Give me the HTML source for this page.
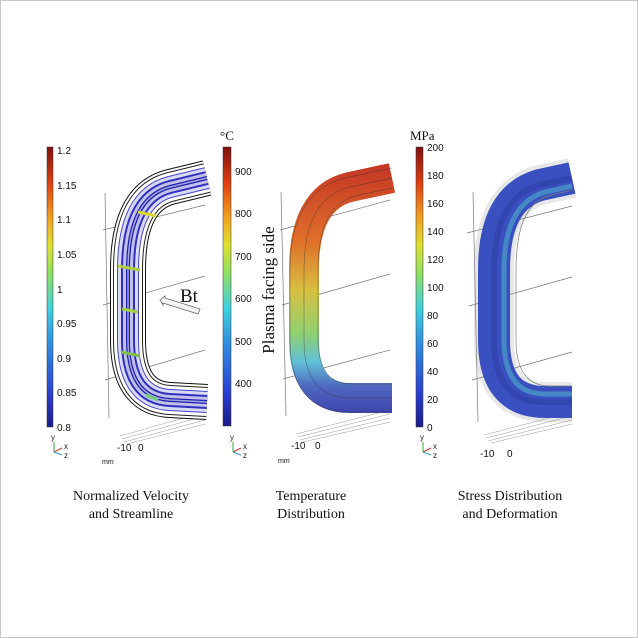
<!DOCTYPE html>
<html><head><style>
html,body{margin:0;padding:0;background:#fff}
svg{display:block}
.t{font-family:"Liberation Sans",sans-serif;font-size:10px;fill:#111}
.s{font-family:"Liberation Serif",serif;fill:#111}
</style></head><body>
<svg width="638" height="638" viewBox="0 0 638 638" xmlns="http://www.w3.org/2000/svg">
<defs>
<linearGradient id="jet" x1="0" y1="1" x2="0" y2="0">
<stop offset="0" stop-color="#1a1a8a"/><stop offset="0.12" stop-color="#2a3fd0"/><stop offset="0.3" stop-color="#2f8fe0"/>
<stop offset="0.42" stop-color="#3fd0e0"/><stop offset="0.55" stop-color="#90e060"/><stop offset="0.65" stop-color="#e0e030"/>
<stop offset="0.75" stop-color="#f0a020"/><stop offset="0.87" stop-color="#e04010"/><stop offset="1" stop-color="#801010"/>
</linearGradient>
<linearGradient id="temp" gradientUnits="userSpaceOnUse" x1="0" y1="170" x2="0" y2="410">
<stop offset="0" stop-color="#c63a25"/><stop offset="0.3" stop-color="#e0702a"/><stop offset="0.5" stop-color="#d8c040"/>
<stop offset="0.68" stop-color="#90d070"/><stop offset="0.8" stop-color="#60c0d8"/><stop offset="0.9" stop-color="#5068c0"/><stop offset="1" stop-color="#4048b0"/>
</linearGradient>
<path id="p1" d="M207 178 L170 187 Q128 198 128 270 L128 340 Q128 398 170 400 L207 402"/>
</defs>
<rect x="0.5" y="0.5" width="637" height="637" fill="#fff" stroke="#c8c8c8"/>

<rect x="47" y="147" width="6" height="280" fill="url(#jet)" stroke="#333" stroke-width="0.5"/>
<rect x="223" y="147" width="8" height="279" fill="url(#jet)" stroke="#333" stroke-width="0.5"/>
<rect x="416" y="147" width="7" height="280" fill="url(#jet)" stroke="#333" stroke-width="0.5"/>
<g class="t">
<text x="57" y="154">1.2</text><text x="57" y="189">1.15</text><text x="57" y="223">1.1</text><text x="57" y="258">1.05</text>
<text x="57" y="293">1</text><text x="57" y="327">0.95</text><text x="57" y="362">0.9</text><text x="57" y="396">0.85</text><text x="57" y="431">0.8</text>
<text x="235" y="175">900</text><text x="235" y="217">800</text><text x="235" y="260">700</text><text x="235" y="302">600</text><text x="235" y="345">500</text><text x="235" y="387">400</text>
<text x="427" y="151">200</text><text x="427" y="179">180</text><text x="427" y="207">160</text><text x="427" y="235">140</text><text x="427" y="263">120</text>
<text x="427" y="291">100</text><text x="427" y="319">80</text><text x="427" y="347">60</text><text x="427" y="375">40</text><text x="427" y="403">20</text><text x="427" y="431">0</text>
</g>
<text class="s" x="220" y="140" font-size="13">°C</text>
<text class="s" x="410" y="140" font-size="13">MPa</text>

<g stroke="#777" stroke-width="0.7" fill="none">
<line x1="105" y1="193" x2="109" y2="418"/><line x1="103" y1="230" x2="205" y2="205"/><line x1="103" y1="305" x2="205" y2="276"/><line x1="105" y1="380" x2="205" y2="350"/>
<line x1="281" y1="192" x2="286" y2="416"/><line x1="280" y1="230" x2="390" y2="200"/><line x1="282" y1="305" x2="390" y2="274"/><line x1="283" y1="379" x2="390" y2="350"/>
<line x1="473" y1="192" x2="478" y2="422"/><line x1="467" y1="233" x2="572" y2="206"/><line x1="469" y1="306" x2="572" y2="277"/><line x1="472" y1="380" x2="572" y2="352"/>
<g stroke="#999" stroke-width="0.5">
<path d="M120 436 L205 412 M122 439 L205 416 M124 442 L205 420 M127 444 L205 424"/>
<path d="M296 434 L390 410 M298 437 L390 414 M300 440 L390 418 M303 442 L390 422"/>
<path d="M484 435 L572 412 M486 438 L572 416 M488 441 L572 420 M491 443 L572 424"/>
</g>
</g>

<g fill="none">
<use href="#p1" stroke="#111" stroke-width="36"/>
<use href="#p1" stroke="#fff" stroke-width="34"/>
<use href="#p1" stroke="#222" stroke-width="30"/>
<use href="#p1" stroke="#fff" stroke-width="28"/>
<use href="#p1" stroke="#4545d0" stroke-width="22"/>
<use href="#p1" stroke="#fff" stroke-width="20" opacity="0.8"/>
<use href="#p1" stroke="#3030c0" stroke-width="14"/>
<use href="#p1" stroke="#fff" stroke-width="10" opacity="0.7"/>
<use href="#p1" stroke="#2020b0" stroke-width="4"/>
<use href="#p1" stroke="#fff" stroke-width="1.5" opacity="0.6"/>
</g>
<g stroke-width="3">
<line x1="138" y1="212" x2="156" y2="216" stroke="#d8d830"/><line x1="118" y1="266" x2="140" y2="270" stroke="#b0d040"/>
<line x1="122" y1="309" x2="138" y2="312" stroke="#a0d040"/><line x1="122" y1="352" x2="140" y2="356" stroke="#80c050"/><line x1="146" y1="395" x2="158" y2="400" stroke="#70d070"/>
</g>
<text class="s" x="180" y="302" font-size="19">Bt</text>
<path d="M160 300 L165 296 L165 298 L200 309 L198 314 L163 303 L163 305 Z" fill="#f4f4f4" stroke="#666" stroke-width="0.8"/>

<path d="M392 178 L350 187 Q304 198 304 270 L304 340 Q304 398 350 398 L392 398" fill="none" stroke="url(#temp)" stroke-width="30"/>
<g fill="none" stroke="#333" stroke-width="0.5" opacity="0.7">
<path d="M392 168 L345 178 Q290 192 290 270 L290 340 Q290 412 350 412 L392 412"/>
<path d="M392 188 L355 196 Q318 206 318 270 L318 340 Q318 384 352 384 L392 384"/>
<path d="M392 178 L350 187 Q304 198 304 270 L304 340 Q304 398 350 398 L392 398"/>
</g>
<text class="s" font-size="17" transform="translate(274 290) rotate(-90)" text-anchor="middle">Plasma facing side</text>

<path d="M572 178 L540 185 Q494 198 494 270 L494 340 Q494 402 545 402 L572 402" fill="none" stroke="#888" stroke-width="40" opacity="0.2"/>
<path d="M572 178 L540 185 Q494 198 494 270 L494 340 Q494 402 545 402 L572 402" fill="none" stroke="#3a50c0" stroke-width="32"/>
<path d="M572 186 L545 192 Q504 204 504 270 L504 340 Q504 394 545 394 L572 394" fill="none" stroke="#4aa0c8" stroke-width="5" opacity="0.7"/>
<path d="M572 178 L540 185 Q494 198 494 270 L494 340 Q494 402 545 402 L572 402" fill="none" stroke="#2a3aa0" stroke-width="6" opacity="0.5"/>
<path d="M572 190 L548 196 Q516 206 516 270 L516 340 Q516 386 550 386 L572 386" fill="none" stroke="#777" stroke-width="0.7"/>

<g class="t" font-size="9">
<text x="117" y="451">-10</text><text x="138" y="451">0</text><text x="102" y="464" font-size="7">mm</text>
<text x="291" y="449">-10</text><text x="315" y="449">0</text><text x="278" y="463" font-size="7">mm</text>
<text x="480" y="457">-10</text><text x="507" y="457">0</text>
</g>
<g font-family="Liberation Sans,sans-serif" font-size="8">
<g transform="translate(54 452)"><line x1="0" y1="0" x2="0" y2="-10" stroke="#3a3"/><line x1="0" y1="0" x2="8" y2="-4" stroke="#c33"/><line x1="0" y1="0" x2="8" y2="3" stroke="#39c"/><text x="-3" y="-12" fill="#222">y</text><text x="10" y="-3" fill="#222">x</text><text x="10" y="6" fill="#222">z</text></g>
<g transform="translate(233 452)"><line x1="0" y1="0" x2="0" y2="-10" stroke="#3a3"/><line x1="0" y1="0" x2="8" y2="-4" stroke="#c33"/><line x1="0" y1="0" x2="8" y2="3" stroke="#39c"/><text x="-3" y="-12" fill="#222">y</text><text x="10" y="-3" fill="#222">x</text><text x="10" y="6" fill="#222">z</text></g>
<g transform="translate(423 452)"><line x1="0" y1="0" x2="0" y2="-10" stroke="#3a3"/><line x1="0" y1="0" x2="8" y2="-4" stroke="#c33"/><line x1="0" y1="0" x2="8" y2="3" stroke="#39c"/><text x="-3" y="-12" fill="#222">y</text><text x="10" y="-3" fill="#222">x</text><text x="10" y="6" fill="#222">z</text></g>
</g>

<g class="s" font-size="14" text-anchor="middle">
<text x="131" y="500">Normalized Velocity</text><text x="131" y="518">and Streamline</text>
<text x="311" y="500">Temperature</text><text x="311" y="518">Distribution</text>
<text x="510" y="500">Stress Distribution</text><text x="510" y="518">and Deformation</text>
</g>
</svg>
</body></html>
